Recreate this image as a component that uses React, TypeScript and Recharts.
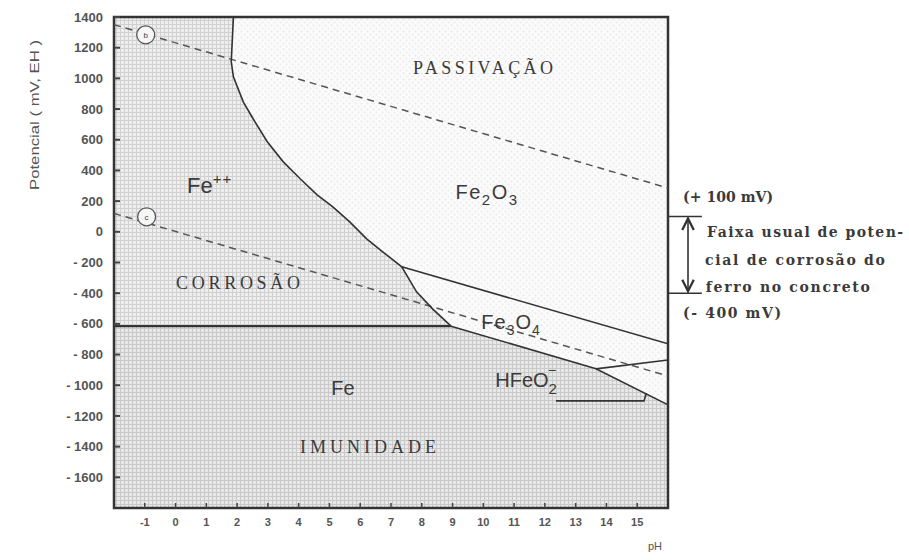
import { Area, CartesianGrid, ComposedChart, Line, ReferenceArea, ReferenceDot, ReferenceLine, XAxis, YAxis } from 'recharts';

const phTicks = [-1, 0, 1, 2, 3, 4, 5, 6, 7, 8, 9, 10, 11, 12, 13, 14, 15];
const potentialTicks = [1400, 1200, 1000, 800, 600, 400, 200, 0, -200, -400, -600, -800, -1000, -1200, -1400, -1600];

// Fe++ / Fe2O3 and Fe++ / Fe3O4 boundary
const ferrousPH = [1.88, 1.81, 1.88, 2.2, 2.52, 2.98, 3.5, 4.05, 4.6, 5.11, 5.66, 6.21, 6.73, 7.35, 7.83, 8.35, 8.95];
const ferrousE = [1400, 1108, 1010, 847, 737, 587, 456, 346, 241, 163, 65, -46, -130, -228, -391, -502, -615];

// Fe / Fe++ horizontal line
const ironPH = [-2, 8.95];
const ironE = [-615, -615];

// Fe2O3 / Fe3O4
const magnetiteTopPH = [7.35, 16];
const magnetiteTopE = [-228, -730];

// Fe3O4 / Fe  (and HFeO2- / Fe)
const magnetiteLowPH = [8.95, 13.66, 16];
const magnetiteLowE = [-615, -893, -1128];

// Fe3O4 / HFeO2-
const hfeo2PH = [13.66, 16];
const hfeo2E = [-893, -835];

// HFeO2- lower mark
const hfeo2BasePH = [12.36, 15.22, 15.3];
const hfeo2BaseE = [-1102, -1102, -1050];

// water lines b and c
const lineBPH = [-2, 16];
const lineBE = [1350, 285];
const lineCPH = [-2, 16];
const lineCE = [120, -940];

// usual corrosion potential range of steel in concrete (mV)
const concreteRange = [100, -400];

const Y_MIN = -1800;
const Y_MAX = 1400;

const pts = (xs: number[], ys: number[]) => xs.map((x, i) => ({ x, e: ys[i] }));

const ferrousArea = [
  { x: -2, r: [ironE[0], Y_MAX] },
  ...ferrousPH.map((x, i) => ({ x, r: [ironE[0], ferrousE[i]] })),
];
const immunityArea = [
  { x: -2, r: [Y_MIN, ironE[0]] },
  ...magnetiteLowPH.map((x, i) => ({ x, r: [Y_MIN, magnetiteLowE[i]] })),
];

const ink = '#3a3a3a';
const sans = '"Liberation Sans", Arial, sans-serif';
const serif = '"DejaVu Serif", "Liberation Serif", serif';
const times = '"Liberation Serif", "Times New Roman", serif';

const YTitle = (props: any) => {
  const { x, y } = props.viewBox;
  const cx = x + 35;
  const cy = y + 98;
  return (
    <text x={cx} y={cy} dy={4} transform={`rotate(-90 ${cx} ${cy})`} textAnchor="middle" fontFamily={sans} fontSize={13} fill="#555" textLength={150} lengthAdjust="spacingAndGlyphs">
      Potencial ( mV, EH )
    </text>
  );
};

const XTitle = (props: any) => {
  const { x, y, width } = props.viewBox;
  return (
    <text x={x + width - 13} y={y + 42} textAnchor="middle" fontFamily={sans} fontSize={11} fill="#555">
      pH
    </text>
  );
};

const seg = (xs: number[], ys: number[], key: string, dash?: string, w = 1.6) => (
  <Line
    key={key}
    data={pts(xs, ys)}
    dataKey="e"
    type="linear"
    stroke={dash ? '#555' : '#333'}
    strokeWidth={w}
    strokeDasharray={dash}
    dot={false}
    activeDot={false}
    isAnimationActive={false}
  />
);

const circleTag = (letter: string) => (p: any) => (
  <g>
    <circle cx={p.cx} cy={p.cy} r={9} fill="#f6f6f6" stroke="#555" strokeWidth={1.3} />
    <text x={p.cx} y={p.cy + 3} textAnchor="middle" fontFamily={sans} fontSize={8} fill="#444">{letter}</text>
  </g>
);

const word = (text: string, font: string, size: number, len: number, anchor: 'middle' | 'start' = 'middle', weight = 400) => (p: any) => (
  <text
    x={p.cx}
    y={p.cy}
    dy={size * 0.36}
    textAnchor={anchor}
    fontFamily={font}
    fontSize={size}
    fontWeight={weight}
    fill={ink}
    textLength={len}
    lengthAdjust="spacing"
  >
    {text}
  </text>
);

export default function App() {
  return (
    <div style={{ position: 'absolute', left: 0, top: 0, width: 909, height: 560, background: '#fff' }}>
      <ComposedChart width={909} height={560} margin={{ top: 17, right: 241, bottom: 22, left: 0 }}>
        <defs>
          <pattern id="gridLight" width="4" height="4" patternUnits="userSpaceOnUse">
            <rect width="4" height="4" fill="#eeeeee" />
            <path d="M0 0.5H4M0.5 0V4" stroke="#d0d0d0" strokeWidth="1" />
          </pattern>
          <pattern id="gridDark" width="4" height="4" patternUnits="userSpaceOnUse">
            <rect width="4" height="4" fill="#e8e8e8" />
            <path d="M0 0.5H4M0.5 0V4" stroke="#c9c9c9" strokeWidth="1" />
          </pattern>
          <pattern id="dots" width="6" height="6" patternUnits="userSpaceOnUse">
            <rect width="6" height="6" fill="#fbfbfb" />
            <circle cx="1.5" cy="1.5" r="1" fill="#e8e8e8" />
            <circle cx="4.5" cy="4.5" r="1" fill="#ececec" />
          </pattern>
          <marker id="arrowHead" viewBox="0 0 10 10" refX="9" refY="5" markerWidth="9" markerHeight="9" orient="auto-start-reverse">
            <path d="M1 1 L9 5 L1 9" fill="none" stroke="#333" strokeWidth="1.6" />
          </marker>
        </defs>
        <CartesianGrid horizontal={false} vertical={false} fill="url(#dots)" />
        <XAxis
          type="number"
          dataKey="x"
          domain={[-2, 16]}
          ticks={phTicks}
          allowDataOverflow
          axisLine={false}
          tickSize={-5}
          tickMargin={15}
          tickLine={{ stroke: '#444', strokeWidth: 1.5 }}
          tick={{ fontSize: 11, fontWeight: 700, fill: '#555', fontFamily: sans }}
          height={30}
          label={<XTitle />}
        />
        <YAxis
          type="number"
          domain={[Y_MIN, Y_MAX]}
          ticks={potentialTicks}
          allowDataOverflow
          axisLine={false}
          tickSize={-6}
          tickMargin={17}
          tickLine={{ stroke: '#444', strokeWidth: 2 }}
          tick={{ fontSize: 13, fontWeight: 700, fill: '#555', fontFamily: sans }}
          tickFormatter={(v: number) => (v < 0 ? `- ${-v}` : `${v}`)}
          width={114}
          label={<YTitle />}
        />
        <Area data={ferrousArea} dataKey="r" type="linear" stroke="none" fill="url(#gridLight)" fillOpacity={1} isAnimationActive={false} activeDot={false} />
        <Area data={immunityArea} dataKey="r" type="linear" stroke="none" fill="url(#gridDark)" fillOpacity={1} isAnimationActive={false} activeDot={false} />

        {seg(lineBPH, lineBE, 'b', '7 5', 1.5)}
        {seg(lineCPH, lineCE, 'c', '7 5', 1.5)}
        {seg(ferrousPH, ferrousE, 'ferrous')}
        {seg(ironPH, ironE, 'iron', undefined, 2.2)}
        {seg(magnetiteTopPH, magnetiteTopE, 'mtop')}
        {seg(magnetiteLowPH, magnetiteLowE, 'mlow')}
        {seg(hfeo2PH, hfeo2E, 'hfeo2')}
        {seg(hfeo2BasePH, hfeo2BaseE, 'hbase')}

        <ReferenceArea x1={-2} x2={16} y1={Y_MIN} y2={Y_MAX} fill="none" stroke="#333" strokeWidth={2.5} />

        <ReferenceDot x={-0.97} y={1284} r={9} shape={circleTag('b')} />
        <ReferenceDot x={-0.94} y={98} r={9} shape={circleTag('c')} />

        <ReferenceDot x={9.99} y={1074} r={0} shape={word('PASSIVAÇÃO', times, 18, 140)} />
        <ReferenceDot x={10.12} y={260} r={0} shape={(p: any) => (
          <text x={p.cx} y={p.cy + 7} textAnchor="middle" fontFamily={sans} fontSize={20} letterSpacing={1.5} fill={ink}>
            Fe<tspan fontSize={15} dy={6}>2</tspan><tspan dy={-6}>O</tspan><tspan fontSize={15} dy={6}>3</tspan>
          </text>
        )} />
        <ReferenceDot x={0.37} y={299} r={0} shape={(p: any) => (
          <text x={p.cx} y={p.cy + 7} textAnchor="start" fontFamily={sans} fontSize={22} fill={ink}>
            Fe<tspan fontSize={15} dy={-9} letterSpacing={1}>++</tspan>
          </text>
        )} />
        <ReferenceDot x={2.03} y={-333} r={0} shape={word('CORROSÃO', times, 18, 124)} />
        <ReferenceDot x={10.9} y={-585} r={0} shape={(p: any) => (
          <text x={p.cx} y={p.cy + 7} textAnchor="middle" fontFamily={sans} fontSize={20} letterSpacing={1} fill={ink}>
            Fe<tspan fontSize={14} dy={6}>3</tspan><tspan dy={-6}>O</tspan><tspan fontSize={14} dy={6}>4</tspan>
          </text>
        )} />
        <ReferenceDot x={5.44} y={-1018} r={0} shape={(p: any) => (
          <text x={p.cx} y={p.cy + 7} textAnchor="middle" fontFamily={sans} fontSize={20} fill={ink}>Fe</text>
        )} />
        <ReferenceDot x={11.39} y={-966} r={0} shape={(p: any) => (
          <text x={p.cx} y={p.cy + 7} textAnchor="middle" fontFamily={sans} fontSize={20} fill={ink}>
            HFeO<tspan fontSize={15} dy={7}>2</tspan><tspan fontSize={14} dx={-9} dy={-19}>−</tspan>
          </text>
        )} />
        <ReferenceDot x={6.25} y={-1402} r={0} shape={word('IMUNIDADE', times, 18, 136)} />

        <ReferenceLine segment={[{ x: 16, y: concreteRange[0] }, { x: 17.1, y: concreteRange[0] }]} stroke="#333" strokeWidth={1.5} ifOverflow="visible" />
        <ReferenceLine segment={[{ x: 16, y: concreteRange[1] }, { x: 17.1, y: concreteRange[1] }]} stroke="#333" strokeWidth={1.5} ifOverflow="visible" />
        <ReferenceLine
          segment={[{ x: 16.65, y: concreteRange[0] }, { x: 16.65, y: concreteRange[1] }]}
          ifOverflow="visible"
          shape={(p: any) => (
            <line x1={p.x1} y1={p.y1 + 2} x2={p.x2} y2={p.y2 - 2} stroke="#333" strokeWidth={1.6} markerStart="url(#arrowHead)" markerEnd="url(#arrowHead)" />
          )}
        />
        <ReferenceDot x={16.49} y={227} r={0} ifOverflow="visible" shape={word('(+ 100 mV)', serif, 14, 90, 'start', 700)} />
        <ReferenceDot x={17.27} y={1} r={0} ifOverflow="visible" shape={word('Faixa usual de poten-', serif, 14, 196, 'start', 700)} />
        <ReferenceDot x={17.2} y={-184} r={0} ifOverflow="visible" shape={word('cial de corrosão do', serif, 14, 180, 'start', 700)} />
        <ReferenceDot x={17.23} y={-360} r={0} ifOverflow="visible" shape={word('ferro no concreto', serif, 14, 164, 'start', 700)} />
        <ReferenceDot x={16.49} y={-529} r={0} ifOverflow="visible" shape={word('(- 400 mV)', serif, 14, 98, 'start', 700)} />
      </ComposedChart>
    </div>
  );
}
